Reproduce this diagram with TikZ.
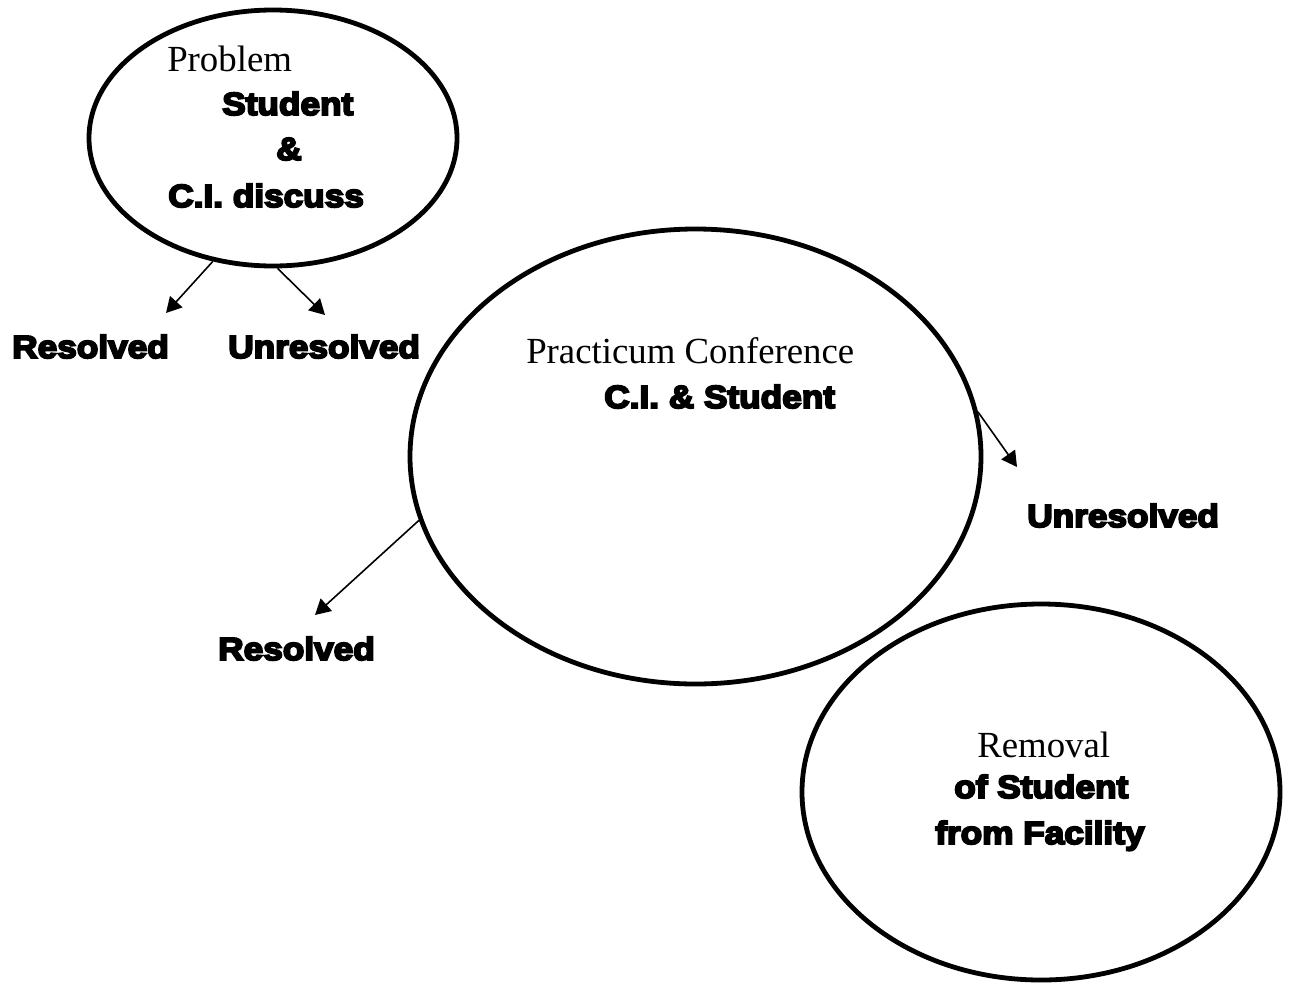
\documentclass[tikz,border=0pt]{standalone}
\usepackage{fontspec}
\setmainfont{Liberation Serif}
\newfontfamily\blk{Liberation Sans}[UprightFont={* Bold}, FakeStretch=1.10, FakeBold=6]
\usetikzlibrary{shapes.geometric,arrows.meta}
\tikzset{
  bubble/.style={draw, ellipse, line width=3.6pt, inner sep=0pt},
  serif/.style={font=\fontsize{27.6}{32}\selectfont, inner sep=0pt, anchor=base west},
  heavy/.style={font=\blk\fontsize{24}{28}\selectfont, inner sep=0pt, anchor=base west},
  link/.style={line width=1.2pt, -{Triangle[length=11.5pt,width=12.5pt]}}
}
\begin{document}
\begin{tikzpicture}[x=0.75pt,y=-0.75pt]
\useasboundingbox (0,0) rectangle (1291,985);
% ellipses
\node[bubble, minimum width=276pt, minimum height=192pt] (e1) at (273,138) {};
\node[bubble, minimum width=428.25pt, minimum height=341.25pt] (e2) at (695.5,456.5) {};
\node[bubble, minimum width=358.5pt, minimum height=282pt] (e3) at (1041,792) {};
% texts in first ellipse
\node[serif] (t1) at (167,71) {Problem};
\node[heavy] (t2) at (222,115) {Student};
\node[heavy] (t3) at (276,160) {\&};
\node[heavy] (t4) at (168,207) {C.I. discuss};
% outcome labels
\node[heavy] (r1) at (12,358) {Resolved};
\node[heavy] (u1) at (228,358) {Unresolved};
% second ellipse
\node[serif] (t5) at (526,363) {Practicum Conference};
\node[heavy] (t6) at (604,408) {C.I. \& Student};
\node[heavy] (u2) at (1027,527) {Unresolved};
\node[heavy] (r2) at (218,660) {Resolved};
% third ellipse
\node[serif] (t7) at (977,757) {Removal};
\node[heavy] (t8) at (954,798) {of Student};
\node[heavy] (t9) at (935,844) {from Facility};
% arrow tips
\coordinate (p1) at (166,313);
\coordinate (p2) at (325,315);
\coordinate (p3) at (1017,467);
\coordinate (p4) at (315,615);
\draw[link] (e1.-116.6) -- (p1);
\draw[link] (e1.-88) -- (p2);
\draw[link] (e2.9.4) -- (p3);
\draw[link] (e2.-167.8) -- (p4);
\end{tikzpicture}
\end{document}
